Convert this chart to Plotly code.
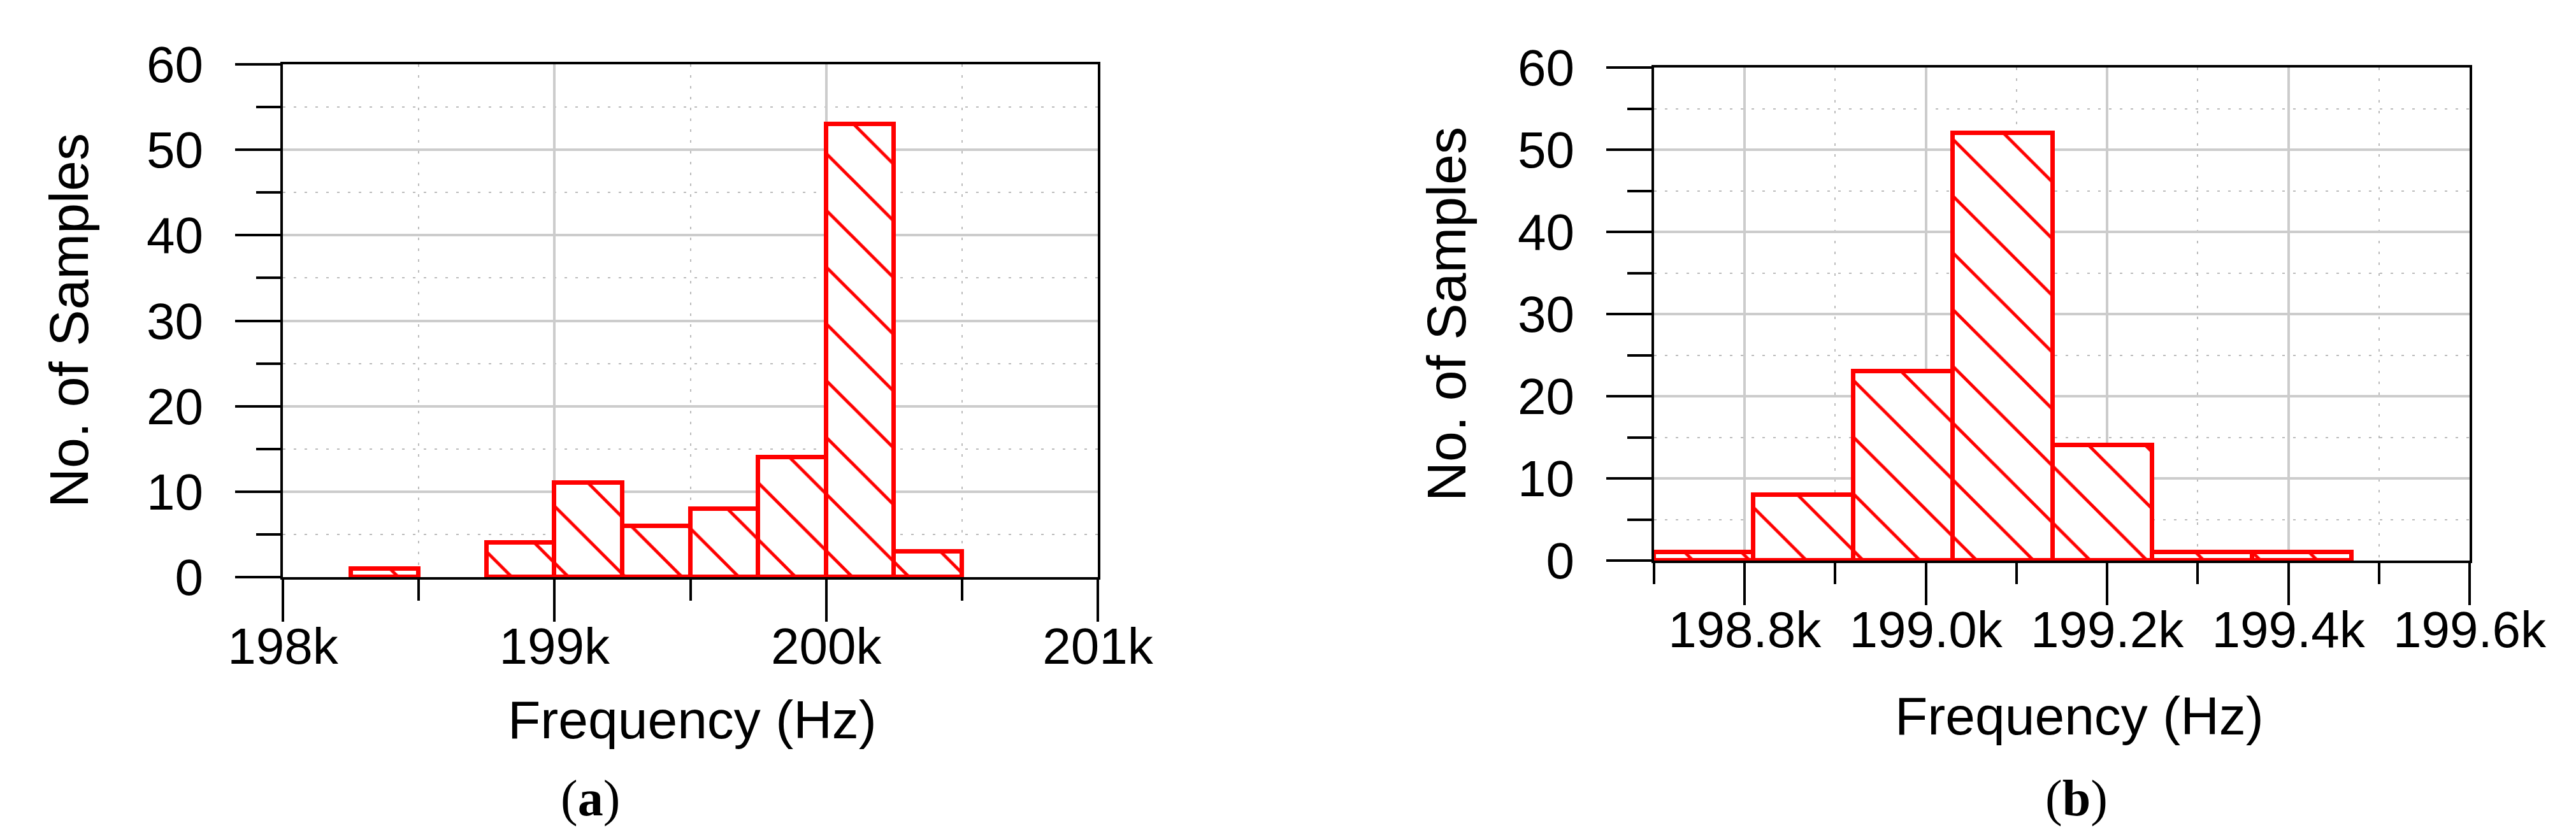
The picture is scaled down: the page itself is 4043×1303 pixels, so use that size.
import plotly.graph_objects as go

# histogram (a): bin left edges in Hz and counts
bin_left_a = [198250, 198750, 199000, 199250, 199500, 199750, 200000, 200250]
counts_a = [1, 4, 11, 6, 8, 14, 53, 3]
bin_width_a = 250

# histogram (b)
bin_left_b = [198700, 198810, 198920, 199030, 199140, 199250, 199360]
counts_b = [1, 8, 23, 52, 14, 1, 1]
bin_width_b = 110

xticks_a = [198000, 199000, 200000, 201000]
xticktext_a = ["198k", "199k", "200k", "201k"]
xminor_a = [198500, 199500, 200500]

xticks_b = [198800, 199000, 199200, 199400, 199600]
xticktext_b = ["198.8k", "199.0k", "199.2k", "199.4k", "199.6k"]
xminor_b = [198700, 198900, 199100, 199300, 199500]

yticks = [0, 10, 20, 30, 40, 50, 60]
yminor = [5, 15, 25, 35, 45, 55]

W, H = 4043, 1303
RED = "#ff0000"
FONT = "Liberation Sans"


def bar_trace(left, counts, width, xa, ya):
    centers = [l + width / 2 for l in left]
    return go.Bar(
        x=centers, y=counts, width=width, xaxis=xa, yaxis=ya,
        marker=dict(color="white",
                    line=dict(color=RED, width=7),
                    pattern=dict(shape="\\", fgcolor=RED, bgcolor="white",
                                 size=63, solidity=0.08, fillmode="replace")),
        showlegend=False,
    )


fig = go.Figure()
fig.add_trace(bar_trace(bin_left_a, counts_a, bin_width_a, "x", "y"))
fig.add_trace(bar_trace(bin_left_b, counts_b, bin_width_b, "x2", "y2"))


def xaxis_style(dom, rng, tv, tt, mv, anchor):
    return dict(
        domain=dom, range=rng, anchor=anchor,
        tickmode="array", tickvals=tv, ticktext=tt,
        ticks="outside", ticklen=66, tickwidth=4, tickcolor="black",
        showline=True, linecolor="black", linewidth=4, mirror=True,
        showgrid=True, gridcolor="#cccccc", gridwidth=4,
        zeroline=False,
        tickfont=dict(family=FONT, size=80, color="black"),
        ticklabelstandoff=-30,
        minor=dict(tickmode="array", tickvals=mv, ticks="outside", ticklen=33,
                   tickwidth=4, tickcolor="black", showgrid=True,
                   gridcolor="#bbbbbb", gridwidth=2, griddash="4px,13px"),
        automargin=False, fixedrange=True,
    )


def yaxis_style(dom, anchor):
    return dict(
        domain=dom, range=[0, 60], anchor=anchor,
        tickmode="array", tickvals=yticks,
        ticks="outside", ticklen=71, tickwidth=4, tickcolor="black",
        showline=True, linecolor="black", linewidth=4, mirror=True,
        showgrid=True, gridcolor="#cccccc", gridwidth=4,
        zeroline=False,
        tickfont=dict(family=FONT, size=80, color="black"),
        ticklabelstandoff=34,
        minor=dict(tickmode="array", tickvals=yminor, ticks="outside", ticklen=38,
                   tickwidth=4, tickcolor="black", showgrid=True,
                   gridcolor="#bbbbbb", gridwidth=2, griddash="4px,13px"),
        automargin=False, fixedrange=True,
    )


fig.update_layout(
    width=W, height=H,
    margin=dict(l=0, r=0, t=0, b=0),
    paper_bgcolor="white", plot_bgcolor="white",
    bargap=0,
    xaxis=xaxis_style([436 / W, 1715 / W], [198000, 201000], xticks_a, xticktext_a, xminor_a, "y"),
    yaxis=yaxis_style([1 - 898 / H, 1 - 93 / H], "x"),
    xaxis2=xaxis_style([2588 / W, 3868 / W], [198700, 199600], xticks_b, xticktext_b, xminor_b, "y2"),
    yaxis2=yaxis_style([1 - 872 / H, 1 - 98 / H], "x2"),
)

# axis titles and panel labels
ann = [
    dict(text="No. of Samples", x=100 / W, y=1 - 495 / H, textangle=-90,
         font=dict(family=FONT, size=86, color="black")),
    dict(text="No. of Samples", x=2262 / W, y=1 - 485 / H, textangle=-90,
         font=dict(family=FONT, size=86, color="black")),
    dict(text="Frequency (Hz)", x=1078 / W, y=1 - 1122 / H,
         font=dict(family=FONT, size=84, color="black")),
    dict(text="Frequency (Hz)", x=3255 / W, y=1 - 1116 / H,
         font=dict(family=FONT, size=84, color="black")),
    dict(text="(<b>a</b>)", x=918 / W, y=1 - 1245 / H,
         font=dict(family="Liberation Serif", size=80, color="black")),
    dict(text="(<b>b</b>)", x=3251 / W, y=1 - 1245 / H,
         font=dict(family="Liberation Serif", size=80, color="black")),
]
for a in ann:
    fig.add_annotation(xref="paper", yref="paper", showarrow=False,
                       xanchor="center", yanchor="middle", **a)

fig.write_html("out.html")
